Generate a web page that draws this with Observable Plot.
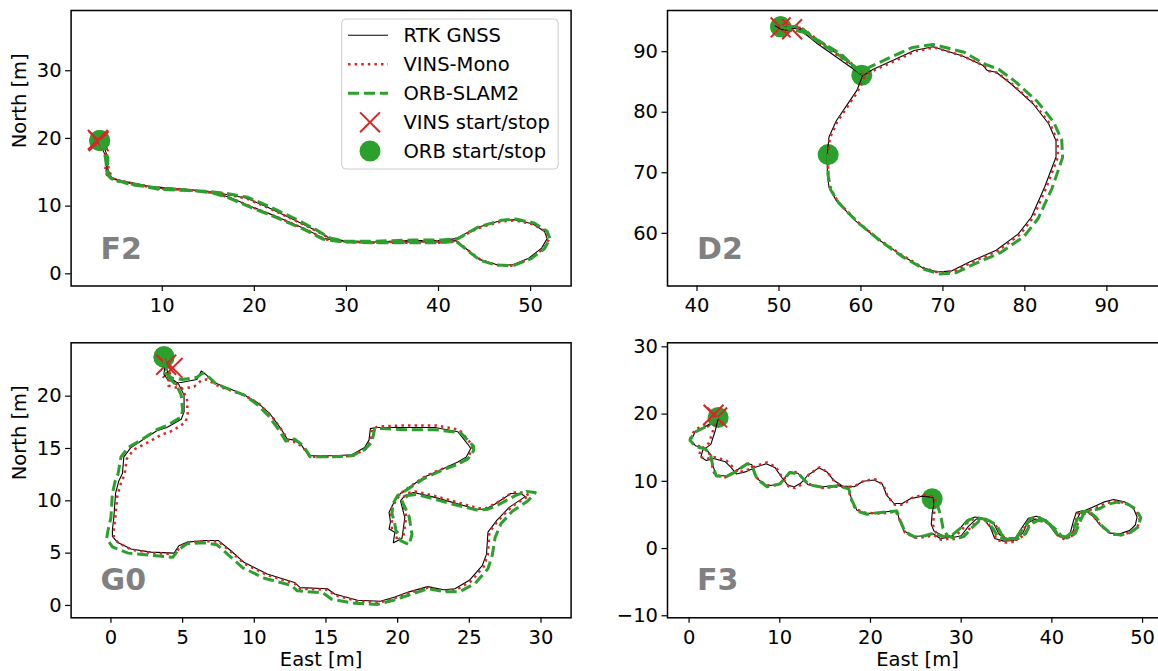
<!DOCTYPE html>
<html><head><meta charset="utf-8">
<script src="https://cdn.jsdelivr.net/npm/d3@7"></script>
<script src="https://cdn.jsdelivr.net/npm/@observablehq/plot@0.6"></script>
<style>
html,body{margin:0;padding:0;background:#fff;overflow:hidden;}
#wrap{position:relative;width:1158px;height:671px;overflow:hidden;font-family:"DejaVu Sans",sans-serif;background:#fff;}
</style></head><body><div id="wrap"></div>
<script>
// ---------------- F2 ----------------
const f2Gnss = [[3.1,19.6],[3.7,18.6],[4.1,17.2],[3.9,15.2],[4.1,14.5],[4.5,14.0],[6.6,13.5],[9.4,12.7],[12.6,12.5],[14.4,12.2],[16.7,11.8],[19.1,11.2],[21.5,9.8],[24.3,8.0],[26.4,6.6],[28.0,5.4],[29.6,4.9],[32.8,4.7],[36.9,4.9],[40.1,4.9],[41.9,5.2],[44.1,6.8],[46.6,7.8],[48.2,8.0],[50.2,7.4],[51.5,6.3],[51.8,5.2],[51.2,3.8],[49.8,2.3],[48.0,1.3],[46.2,1.4],[44.5,2.1],[43.1,3.6],[41.9,4.9],[40.1,4.7],[36.9,4.7],[32.8,4.7],[29.6,4.8],[27.6,5.2],[25.6,6.6],[22.7,8.3],[19.9,9.8],[17.5,11.2],[15.5,12.1],[12.6,12.5],[9.4,12.8],[6.6,13.3],[4.5,14.2],[4.1,15.4],[3.9,17.2],[3.3,19.1]];
const f2Vins = [[2.6,20.1],[3.4,18.8],[4.0,17.3],[3.8,15.3],[4.0,14.6],[4.6,14.0],[6.7,13.4],[9.5,12.6],[12.7,12.4],[14.5,12.1],[16.8,11.8],[19.2,11.1],[21.6,9.7],[24.4,7.9],[26.5,6.5],[28.1,5.3],[29.7,4.8],[32.9,4.6],[37.0,4.8],[40.2,4.8],[42.0,5.1],[44.2,6.7],[46.7,7.7],[48.3,7.9],[50.3,7.3],[51.7,6.2],[52.0,5.1],[51.4,3.7],[49.9,2.2],[48.1,1.2],[46.3,1.3],[44.6,2.0],[43.2,3.5],[42.0,4.8],[40.2,4.6],[37.0,4.6],[32.9,4.6],[29.7,4.7],[27.7,5.1],[25.7,6.5],[22.8,8.2],[20.0,9.7],[17.6,11.1],[15.6,12.0],[12.7,12.4],[9.5,12.7],[6.7,13.2],[4.6,14.1],[4.2,15.3],[4.0,17.1],[3.1,19.3]];
const f2Orb = [[[3.2,19.7],[3.8,18.5],[4.1,17.0],[4.0,15.1],[4.2,14.4],[4.7,13.8],[6.8,13.3],[9.6,12.5],[12.8,12.3],[14.6,12.2],[16.9,11.9],[19.3,11.3],[21.7,9.9],[24.5,8.1],[26.6,6.6],[28.2,5.3],[29.8,4.8],[33.0,4.8],[37.1,5.0],[40.3,5.0],[42.1,5.2],[44.3,6.9],[46.8,7.9],[48.4,8.1],[50.4,7.5],[51.8,6.3],[52.1,5.2],[51.5,3.7],[50.0,2.2],[48.1,1.2],[46.2,1.3],[44.5,2.0],[43.1,3.5],[41.9,4.8],[40.1,4.6],[36.8,4.6],[32.7,4.6],[29.5,4.7],[27.5,5.1],[25.5,6.5],[22.6,8.2],[19.8,9.7],[17.4,11.1],[15.4,12.0],[12.5,12.4],[9.3,12.7],[6.5,13.2],[4.4,14.1],[4.0,15.4],[3.8,17.3],[3.2,19.7]]];
const f2VinsMarks = [[3.1,19.6],[3.0,19.8]];
const f2OrbMarks = [[3.2,19.7],[3.2,19.7]];

// ---------------- D2 ----------------
const d2Gnss = [[49.5,94.3],[50.4,93.6],[51.1,93.6],[50.9,94.1],[52.5,94.0],[54.7,91.8],[57.5,89.3],[59.5,87.1],[60.2,86.0],[59.5,83.6],[58.1,80.8],[57.0,78.6],[56.1,75.9],[55.9,73.1],[55.9,69.8],[56.1,67.6],[57.0,65.4],[59.3,62.1],[62.0,59.1],[64.7,56.6],[67.4,54.4],[69.3,53.6],[71.1,53.8],[73.3,55.3],[76.5,57.2],[79.2,59.9],[80.8,62.7],[82.4,67.6],[83.8,72.6],[83.8,75.3],[82.9,78.1],[81.0,81.4],[78.3,84.7],[76.5,86.6],[75.4,86.9],[74.9,87.7],[72.4,89.3],[68.8,90.8],[66.5,90.2],[63.8,88.5],[61.5,87.1],[60.2,86.0],[58.6,87.6],[54.7,91.3],[52.5,93.7],[50.2,94.2]];
const d2Vins = [[50.0,94.4],[50.6,93.4],[51.6,93.5],[51.4,94.3],[52.8,93.9],[55.0,91.7],[57.8,89.2],[59.8,87.0],[60.4,85.8],[59.6,83.4],[58.2,80.6],[57.1,78.4],[56.2,75.7],[56.0,72.9],[56.0,69.6],[56.3,67.4],[57.2,65.2],[59.5,62.0],[62.2,59.0],[64.9,56.5],[67.6,54.3],[69.5,53.5],[71.3,53.7],[73.5,55.2],[76.7,57.1],[79.4,59.8],[81.0,62.6],[82.6,67.5],[84.0,72.5],[84.0,75.2],[83.1,78.0],[81.2,81.3],[78.5,84.6],[76.7,86.5],[75.6,86.8],[75.1,87.6],[72.6,89.2],[69.0,90.7],[66.7,90.1],[64.0,88.4],[61.7,87.0],[60.4,86.1],[58.8,87.8],[54.9,91.5],[52.7,93.9],[51.6,94.2]];
const d2Orb = [
  [[50.2,94.1],[51.2,93.8],[53.0,93.2],[55.3,91.2],[58.0,88.8],[59.6,87.2],[60.1,86.1]],
  [[56.0,73.0],[56.0,69.5],[56.3,67.2],[57.3,65.0],[59.6,61.8],[62.3,58.8],[65.0,56.2],[67.8,54.0],[69.6,53.3],[71.6,53.5],[73.8,54.9],[77.0,56.8],[79.9,59.5],[81.6,62.4],[83.3,67.4],[84.6,72.5],[84.5,75.4],[83.5,78.4],[81.5,81.8],[78.8,85.1],[76.8,87.1],[75.2,87.9],[72.6,89.9],[68.8,91.2],[66.3,90.7],[63.5,89.0],[61.3,87.6],[59.8,86.6],[57.6,89.6],[54.6,92.0],[52.4,94.2],[50.2,94.1]]
];
const d2VinsMarks = [[50.2,94.0],[51.6,93.7]];
const d2OrbMarks = [[50.2,94.1],[60.1,86.1],[56.0,73.0],[50.2,94.1]];

// ---------------- G0 ----------------
const g0Gnss = [[3.8,23.6],[3.7,22.1],[4.0,21.5],[4.9,21.3],[6.0,21.6],[6.3,22.4],[6.6,22.1],[7.2,21.3],[7.9,20.9],[9.2,20.2],[10.2,19.4],[11.1,18.3],[11.8,17.0],[12.3,15.9],[12.8,15.8],[13.3,15.3],[13.8,14.3],[15.6,14.3],[16.8,14.4],[17.7,15.1],[18.0,15.8],[18.1,16.9],[18.5,17.0],[20.3,17.0],[22.6,17.0],[24.2,16.6],[24.9,15.4],[25.1,15.0],[24.8,14.2],[24.2,13.7],[22.9,12.9],[21.9,12.3],[20.8,11.3],[20.2,10.7],[19.8,10.0],[19.4,8.9],[19.5,8.0],[19.4,7.3],[19.8,7.0],[19.7,6.0],[20.3,6.4],[20.5,8.4],[20.2,10.0],[20.5,10.5],[21.1,10.8],[22.4,10.4],[23.7,9.9],[25.5,9.2],[26.1,9.2],[26.8,9.7],[27.9,10.7],[28.6,10.7],[28.9,10.4],[27.8,9.4],[26.9,8.1],[26.3,7.0],[26.2,4.9],[25.9,3.8],[25.0,2.4],[24.0,1.6],[23.2,1.5],[22.1,1.8],[20.8,1.3],[19.8,0.8],[18.8,0.4],[17.2,0.5],[15.6,1.1],[15.1,1.6],[13.2,1.7],[12.8,2.2],[10.9,3.0],[9.3,4.1],[8.35,5.25],[7.5,6.2],[6.6,6.2],[5.3,6.05],[4.74,5.7],[4.4,5.0],[2.8,5.1],[1.4,5.4],[0.44,6.05],[0.1,6.6],[0.1,7.2],[0.2,8.4],[0.32,10.7],[0.55,11.9],[0.8,12.6],[0.9,14.2],[1.4,15.1],[2.3,15.9],[3.2,16.7],[3.9,17.0],[4.9,17.8],[5.1,18.5],[5.1,20.1],[4.7,21.2],[4.0,21.9],[3.8,23.4]];
const g0Vins = [[4.1,22.9],[4.0,21.0],[4.9,20.7],[5.8,20.9],[6.3,21.5],[6.7,21.6],[7.3,21.1],[8.0,20.7],[9.3,20.1],[10.3,19.3],[11.2,18.1],[11.9,16.8],[12.4,15.7],[12.9,15.6],[13.4,15.1],[13.9,14.2],[15.7,14.2],[16.9,14.3],[17.8,15.0],[18.1,15.7],[18.2,16.8],[18.6,17.1],[20.4,17.2],[22.7,17.2],[24.3,16.8],[25.1,15.5],[25.2,15.0],[24.9,14.1],[24.3,13.6],[23.0,13.0],[22.0,12.4],[20.9,11.4],[20.3,10.8],[19.9,10.1],[19.5,9.0],[19.6,8.1],[19.6,7.3],[20.0,7.0],[19.9,6.2],[20.4,6.6],[20.6,8.5],[20.3,10.1],[20.6,10.7],[21.2,10.9],[22.5,10.5],[23.8,10.0],[25.6,9.3],[26.2,9.3],[26.9,9.8],[28.0,10.8],[28.8,10.8],[29.2,10.5],[28.0,9.5],[27.0,8.1],[26.4,7.0],[26.3,4.9],[26.0,3.7],[25.1,2.3],[24.1,1.5],[23.2,1.4],[22.1,1.7],[20.8,1.2],[19.8,0.7],[18.8,0.3],[17.2,0.4],[15.6,1.0],[15.1,1.5],[13.2,1.6],[12.8,2.1],[10.9,2.9],[9.3,4.0],[8.35,5.15],[7.5,6.1],[6.6,6.15],[5.3,6.0],[4.8,5.6],[4.5,4.9],[2.8,5.0],[1.4,5.35],[0.5,6.0],[0.2,6.6],[0.2,7.2],[0.3,8.4],[0.45,10.5],[0.7,11.7],[0.95,12.5],[1.1,14.0],[1.6,14.9],[2.6,15.6],[3.5,16.3],[4.3,16.7],[5.2,17.5],[5.35,18.3],[5.3,19.8],[4.9,20.8],[4.3,21.4],[4.0,22.6]];
const g0Orb = [[[3.7,23.8],[3.8,22.2],[4.3,21.7],[5.0,21.6],[6.0,21.8],[6.4,22.2],[6.7,22.0],[7.3,21.2],[8.0,20.8],[9.3,20.1],[10.2,19.2],[11.0,18.1],[11.7,16.8],[12.2,15.7],[12.8,15.9],[13.4,15.3],[13.9,14.2],[15.6,14.2],[16.8,14.3],[17.7,14.9],[18.2,15.6],[18.4,16.9],[18.8,16.9],[20.5,16.8],[22.6,16.8],[24.4,16.5],[25.3,15.2],[25.3,14.8],[24.9,14.0],[24.2,13.5],[22.9,12.8],[21.8,12.1],[20.7,11.1],[20.0,10.5],[19.7,9.8],[19.6,8.8],[19.8,7.8],[19.9,7.0],[20.2,6.2],[20.8,5.8],[21.0,6.8],[20.8,8.5],[20.3,10.0],[20.7,10.5],[21.3,10.6],[22.5,10.2],[23.8,9.7],[25.6,9.1],[26.3,9.2],[27.0,9.6],[28.2,10.5],[29.0,10.9],[29.6,10.8],[29.1,10.0],[28.0,9.0],[27.2,7.8],[26.8,6.5],[26.6,4.8],[26.3,3.5],[25.4,2.1],[24.3,1.3],[23.3,1.3],[22.1,1.6],[20.8,1.0],[19.7,0.5],[18.6,0.1],[17.0,0.2],[15.4,0.6],[14.8,1.2],[13.0,1.4],[12.6,1.9],[10.7,2.6],[9.2,3.6],[8.3,4.7],[7.4,5.8],[6.5,6.0],[5.3,5.9],[4.7,5.3],[4.3,4.6],[2.8,4.8],[1.2,5.0],[0.1,5.6],[-0.3,6.4],[-0.2,7.2],[0.0,8.4],[0.1,10.7],[0.3,11.9],[0.5,12.6],[0.7,14.2],[1.2,15.1],[2.2,15.9],[3.2,16.8],[3.9,17.2],[4.9,18.0],[5.0,18.7],[4.9,20.1],[4.6,21.0],[4.0,21.8],[3.7,23.6]]];
const g0VinsMarks = [[3.85,23.0],[4.3,22.7]];
const g0OrbMarks = [[3.7,23.8],[3.7,23.7]];

// ---------------- F3 ----------------
const f3Gnss = [[3.2,19.3],[2.0,18.3],[0.7,17.4],[0.2,16.1],[0.7,15.3],[1.8,14.9],[2.4,13.9],[2.6,12.4],[3.0,10.9],[4.1,10.8],[5.1,11.5],[6.3,12.6],[6.9,12.5],[7.5,10.4],[8.6,9.3],[10.0,9.6],[11.1,11.4],[12.0,11.2],[13.1,9.5],[14.8,9.2],[16.3,9.4],[17.6,9.0],[17.9,7.4],[18.5,5.7],[19.6,5.2],[21.4,5.4],[22.9,5.7],[23.2,4.2],[23.7,2.6],[24.8,1.8],[25.9,1.9],[26.9,2.2],[27.7,1.5],[28.8,1.7],[29.7,2.7],[30.6,4.2],[31.5,4.7],[32.4,4.5],[33.2,3.2],[33.7,1.5],[34.7,1.1],[35.8,1.2],[36.5,2.7],[37.4,4.5],[38.3,4.8],[39.4,4.2],[40.4,2.2],[41.3,1.5],[42.0,2.2],[42.4,4.2],[42.7,5.4],[43.7,5.7],[44.6,6.2],[45.7,6.9],[46.8,7.3],[48.1,6.9],[49.0,6.0],[49.4,4.7],[49.2,3.5],[48.6,2.7],[47.5,2.2],[46.4,2.3],[45.3,3.5],[44.6,4.7],[43.9,5.5],[43.1,5.3],[42.7,4.1],[42.3,2.4],[41.6,1.7],[40.8,1.9],[40.1,3.0],[39.2,4.1],[38.2,4.4],[37.3,3.8],[36.8,2.3],[36.0,1.5],[35.0,1.5],[34.2,2.1],[33.6,3.7],[32.7,4.5],[31.7,4.4],[30.8,3.3],[30.0,1.9],[29.0,1.6],[28.1,1.8],[27.0,2.6],[26.7,3.6],[26.8,5.2],[27.0,6.6],[26.9,7.6],[25.7,7.8],[24.4,7.4],[23.5,6.7],[22.6,6.7],[21.8,7.9],[21.3,9.6],[20.4,10.2],[19.2,10.0],[18.2,9.2],[16.9,9.3],[15.9,10.2],[15.2,11.4],[14.3,12.0],[13.1,10.9],[12.3,9.7],[11.6,9.2],[10.9,9.4],[10.2,10.6],[9.5,12.0],[8.5,12.6],[7.3,12.1],[6.2,11.4],[5.2,11.1],[4.6,12.1],[4.0,12.9],[2.7,13.4],[1.9,13.1],[1.3,13.6],[1.5,14.6],[2.4,15.5],[2.9,17.6],[3.2,19.3]];
const f3Vins = [[2.8,19.9],[1.8,18.5],[0.6,17.6],[0.1,16.3],[0.5,15.5],[1.6,15.0],[2.3,14.0],[2.5,12.5],[2.8,11.0],[4.0,10.6],[5.0,11.3],[6.2,12.5],[6.8,12.7],[7.4,10.6],[8.5,9.4],[9.9,9.4],[11.0,11.2],[11.9,11.4],[13.0,9.7],[14.7,9.0],[16.2,9.2],[17.5,9.2],[17.8,7.6],[18.3,5.9],[19.5,5.3],[21.3,5.2],[22.8,5.5],[23.3,4.0],[23.8,2.4],[24.9,1.6],[26.0,1.7],[27.0,2.0],[27.8,1.3],[28.9,1.5],[29.9,2.5],[30.8,4.0],[31.7,4.6],[32.6,4.3],[33.4,3.0],[33.9,1.3],[34.9,0.9],[36.0,1.0],[36.7,2.5],[37.6,4.3],[38.5,4.7],[39.6,4.0],[40.6,2.0],[41.5,1.3],[42.2,2.0],[42.6,4.0],[42.9,5.3],[43.9,5.6],[44.8,6.0],[45.9,6.7],[47.0,7.1],[48.3,6.7],[49.2,5.8],[49.7,4.6],[49.5,3.4],[48.8,2.5],[47.7,2.0],[46.6,2.1],[45.5,3.3],[44.8,4.5],[44.1,5.3],[43.3,5.1],[42.9,3.9],[42.5,2.2],[41.8,1.5],[41.0,1.7],[40.3,2.8],[39.4,3.9],[38.4,4.2],[37.5,3.6],[37.0,2.1],[36.2,1.3],[35.2,1.3],[34.4,1.9],[33.8,3.5],[32.9,4.3],[31.9,4.2],[31.0,3.1],[30.2,1.7],[29.2,1.4],[28.3,1.6],[27.2,2.4],[26.9,3.5],[27.0,5.1],[27.2,6.5],[27.1,7.7],[25.8,8.0],[24.5,7.5],[23.6,6.5],[22.7,6.5],[21.9,7.7],[21.4,9.5],[20.5,10.3],[19.3,10.1],[18.3,9.3],[17.0,9.1],[16.0,10.0],[15.3,11.3],[14.4,12.1],[13.2,11.0],[12.4,9.5],[11.7,9.0],[11.0,9.2],[10.3,10.5],[9.6,12.1],[8.6,12.8],[7.4,12.3],[6.3,11.6],[5.3,11.3],[4.7,12.3],[4.1,13.1],[2.8,13.6],[1.8,13.3],[1.1,13.8],[1.3,14.8],[2.2,15.7],[2.7,17.8],[3.0,19.5]];
const f3Orb = [[[3.2,19.5],[2.0,18.2],[0.6,17.3],[0.1,16.1],[0.7,15.2],[1.8,14.8],[2.4,13.8],[2.6,12.4],[3.0,10.8],[4.1,10.7],[5.1,11.4],[6.4,12.6],[6.9,12.4],[7.5,10.3],[8.6,9.2],[10.0,9.6],[11.1,11.3],[12.1,11.1],[13.2,9.5],[14.8,9.1],[16.3,9.3],[17.6,8.9],[17.9,7.3],[18.5,5.6],[19.6,5.1],[21.4,5.4],[22.9,5.6],[23.3,4.1],[23.8,2.5],[24.9,1.7],[26.0,1.9],[27.0,2.3],[27.9,1.8],[29.0,2.0],[29.9,3.0],[30.9,4.3],[31.8,4.6],[32.7,4.3],[33.5,3.0],[34.1,1.6],[35.1,1.4],[36.1,1.6],[36.8,3.0],[37.7,4.5],[38.6,4.6],[39.6,3.9],[40.6,2.2],[41.5,1.7],[42.3,2.5],[42.8,4.4],[43.3,5.5],[44.3,5.6],[45.2,5.9],[46.2,6.6],[47.2,6.9],[48.4,6.6],[49.3,5.8],[49.8,4.6],[49.5,3.2],[48.7,2.4],[47.6,2.0],[46.5,2.2],[45.5,3.4],[44.9,4.6],[44.3,5.3],[43.5,5.2],[43.1,4.0],[42.6,2.3],[41.9,1.6],[41.1,1.8],[40.4,2.9],[39.5,3.9],[38.5,4.2],[37.6,3.6],[37.1,2.2],[36.3,1.5],[35.3,1.5],[34.5,2.0],[33.9,3.5],[33.0,4.2],[32.0,4.1],[31.1,3.0],[30.3,1.8],[29.3,1.5],[28.5,1.9],[28.0,3.0],[27.8,4.5],[27.5,6.0],[26.8,7.4]]];
const f3VinsMarks = [[2.7,19.9],[3.1,19.5]];
const f3OrbMarks = [[3.2,19.5],[26.8,7.4]];

// ---------------- ticks / labels ----------------
const f2XTicks = [10,20,30,40,50], f2YTicks = [0,10,20,30];
const d2XTicks = [40,50,60,70,80,90], d2YTicks = [60,70,80,90];
const g0XTicks = [0,5,10,15,20,25,30], g0YTicks = [0,5,10,15,20];
const f3XTicks = [0,10,20,30,40,50], f3YTicks = [-10,0,10,20,30];
const legendLabels = ["RTK GNSS","VINS-Mono","ORB-SLAM2","VINS start/stop","ORB start/stop"];

const GREEN = "#2ca02c", RED = "#d62728";
const FONT = 19.5;
const wrap = document.getElementById("wrap");
const VINS_DASH = "2.5,4.1", ORB_DASH = "11.1,4.8";

function panel(cfg) {
  const W = 500;
  const orbData = cfg.orb.flatMap((seg, i) => seg.map(p => ({x: p[0], y: p[1], seg: i})));
  const X = d => d[0], Y = d => d[1];
  const marks = [
    Plot.dot(cfg.orbMarks, {x: X, y: Y, r: 10.5, fill: GREEN, stroke: "none"}),
    Plot.dot(cfg.vinsMarks, {x: X, y: Y, symbol: "times", r: 9.1, stroke: RED, strokeWidth: 2, fill: "none"}),
    Plot.line(cfg.gnss, {x: X, y: Y, stroke: "black", strokeWidth: 1.1, strokeLinecap: "butt"}),
    Plot.line(cfg.vins, {x: X, y: Y, stroke: RED, strokeWidth: 2.5, strokeDasharray: VINS_DASH, strokeLinecap: "butt"}),
    Plot.line(orbData, {x: "x", y: "y", z: "seg", stroke: GREEN, strokeWidth: 3, strokeDasharray: ORB_DASH, strokeLinecap: "butt"}),
    Plot.frame({stroke: "black", strokeWidth: 1.5}),
    Plot.axisX({ticks: cfg.xt, tickSize: 5.5, tickPadding: 6.5, fontSize: FONT, label: null, strokeWidth: 1.2}),
    Plot.axisY({ticks: cfg.yt, tickSize: 5.5, tickPadding: 4, fontSize: FONT, label: null, strokeWidth: 1.2}),
    Plot.text([cfg.name], {text: d => d, frameAnchor: "bottom-left", dx: 29.5, dy: -37, fontSize: 30, fontWeight: "bold", fill: "#808080", textAnchor: "start", lineAnchor: "middle"})
  ];
  if (cfg.ylabel) marks.push(Plot.text(["North [m]"], {text: d => d, frameAnchor: "left", dx: -51.5, rotate: -90, fontSize: FONT, lineAnchor: "middle"}));
  if (cfg.xlabel) marks.push(Plot.text(["East [m]"], {text: d => d, frameAnchor: "bottom", dy: 41.5, fontSize: FONT, lineAnchor: "middle"}));
  const svg = Plot.plot({
    width: cfg.ml + W + cfg.mr, height: cfg.mt + cfg.H + cfg.mb,
    marginLeft: cfg.ml, marginRight: cfg.mr, marginTop: cfg.mt, marginBottom: cfg.mb,
    x: {domain: cfg.xd}, y: {domain: cfg.yd},
    style: {fontFamily: "DejaVu Sans", fontSize: FONT + "px", background: "transparent", color: "black", overflow: "visible"},
    marks
  });
  svg.style.position = "absolute";
  svg.style.left = cfg.left + "px";
  svg.style.top = cfg.top + "px";
  wrap.append(svg);
}

panel({name: "F2", gnss: f2Gnss, vins: f2Vins, orb: f2Orb, vinsMarks: f2VinsMarks, orbMarks: f2OrbMarks,
  xd: [0.1, 54.4], yd: [-1.8, 38.9], xt: f2XTicks, yt: f2YTicks,
  left: 0, top: 0, ml: 70.6, mr: 9.4, mt: 10, H: 275.5, mb: 44.5, ylabel: true});
panel({name: "D2", gnss: d2Gnss, vins: d2Vins, orb: d2Orb, vinsMarks: d2VinsMarks, orbMarks: d2OrbMarks,
  xd: [36.4, 97.4], yd: [51.3, 96.8], xt: d2XTicks, yt: d2YTicks,
  left: 580, top: 0, ml: 87, mr: 0, mt: 10, H: 275.5, mb: 44.5});
panel({name: "G0", gnss: g0Gnss, vins: g0Vins, orb: g0Orb, vinsMarks: g0VinsMarks, orbMarks: g0OrbMarks,
  xd: [-2.78, 32.1], yd: [-1.18, 25.1], xt: g0XTicks, yt: g0YTicks,
  left: 0, top: 330, ml: 70.6, mr: 9.4, mt: 12.3, H: 275, mb: 53.7, ylabel: true, xlabel: true});
panel({name: "F3", gnss: f3Gnss, vins: f3Vins, orb: f3Orb, vinsMarks: f3VinsMarks, orbMarks: f3OrbMarks,
  xd: [-2.38, 52.75], yd: [-10.3, 30.6], xt: f3XTicks, yt: f3YTicks,
  left: 580, top: 330, ml: 87, mr: 0, mt: 12.3, H: 275, mb: 53.7, xlabel: true});

// ---------------- legend (panel F2) ----------------
const leg = d3.select(wrap).append("svg")
  .style("position", "absolute").style("left", "0px").style("top", "0px")
  .attr("width", 580).attr("height", 330)
  .style("font-family", "DejaVu Sans").style("font-size", FONT + "px");
leg.append("rect").attr("x", 341.7).attr("y", 19).attr("width", 216.5).attr("height", 150)
  .attr("rx", 4).attr("fill", "white").attr("fill-opacity", 0.8).attr("stroke", "#cccccc").attr("stroke-width", 1);
const rowY = [35.2, 64.3, 93.3, 122.3, 151];
const lx0 = 348, lx1 = 388, lxm = 370, tx = 403.5;
leg.append("line").attr("x1", lx0).attr("x2", lx1).attr("y1", rowY[0]).attr("y2", rowY[0]).attr("stroke", "black").attr("stroke-width", 1.1);
leg.append("line").attr("x1", lx0).attr("x2", lx1).attr("y1", rowY[1]).attr("y2", rowY[1]).attr("stroke", RED).attr("stroke-width", 2.5).attr("stroke-dasharray", VINS_DASH);
leg.append("line").attr("x1", lx0).attr("x2", lx1).attr("y1", rowY[2]).attr("y2", rowY[2]).attr("stroke", GREEN).attr("stroke-width", 3).attr("stroke-dasharray", ORB_DASH);
leg.append("path").attr("d", d3.symbol(d3.symbolTimes, Math.PI * 9.1 * 9.1)()).attr("transform", `translate(${lxm},${rowY[3]})`).attr("fill", "none").attr("stroke", RED).attr("stroke-width", 2);
leg.append("circle").attr("cx", lxm).attr("cy", rowY[4]).attr("r", 10.5).attr("fill", GREEN);
leg.selectAll("text.lab").data(legendLabels).join("text").attr("class", "lab")
  .attr("x", tx).attr("y", (d, i) => rowY[i] + 7.1).attr("fill", "black").text(d => d);
</script>
</body></html>
